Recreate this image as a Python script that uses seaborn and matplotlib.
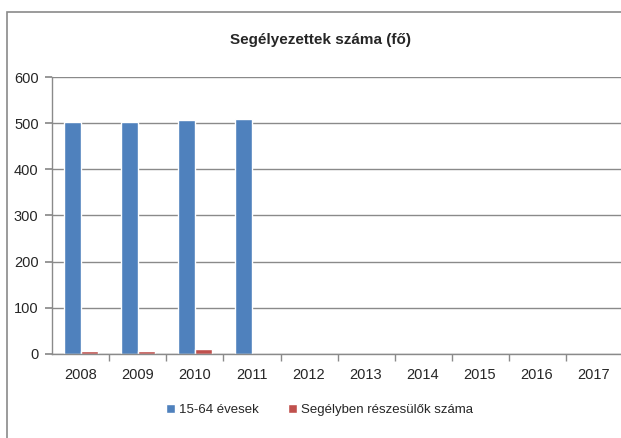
import numpy as np
import pandas as pd
import seaborn as sns
import matplotlib.pyplot as plt
from matplotlib.patches import Rectangle

years = ["2008", "2009", "2010", "2011", "2012", "2013", "2014", "2015", "2016", "2017"]
age_15_64 = [502, 502, 506, 510, np.nan, np.nan, np.nan, np.nan, np.nan, np.nan]
aided = [6, 6, 10, 0, np.nan, np.nan, np.nan, np.nan, np.nan, np.nan]
series_names = ["15-64 évesek", "Segélyben részesülők száma"]
colors = ["#4F81BD", "#C0504D"]

sns.set_theme(style="white")
plt.rcParams["font.family"] = ["Liberation Sans", "DejaVu Sans"]

df = pd.DataFrame({
    "year": years * 2,
    "value": age_15_64 + aided,
    "series": [series_names[0]] * len(years) + [series_names[1]] * len(years),
}).dropna()

fig = plt.figure(figsize=(6.21, 4.38), dpi=100)
ax = fig.add_axes([0.0845, 0.1918, 0.918, 0.6324])

sns.barplot(data=df, x="year", y="value", hue="series", order=years,
            hue_order=series_names, palette=colors, width=0.58, gap=0,
            saturation=1, ax=ax, legend=True)

ax.set_xlim(-0.5, len(years) - 0.5)
ax.set_ylim(0, 600)
ax.set_yticks(range(0, 601, 100))
ax.yaxis.grid(True, color="#8a8a8a", linewidth=1)
ax.set_axisbelow(True)
ax.set_xlabel("")
ax.set_ylabel("")

for s in ["top", "right"]:
    ax.spines[s].set_visible(False)
for s in ["left", "bottom"]:
    ax.spines[s].set_color("#8a8a8a")
    ax.spines[s].set_linewidth(1)

ax.set_xticks(np.arange(len(years)))
ax.set_xticklabels(years)
ax.set_xticks(np.arange(len(years)) + 0.5, minor=True)
ax.tick_params(axis="x", which="major", length=0, pad=10, labelsize=10.5)
ax.tick_params(axis="x", which="minor", length=5, color="#8a8a8a", bottom=True)
ax.tick_params(axis="y", length=5, color="#8a8a8a", left=True, labelsize=10.5, pad=5)

fig.text(321 / 621, 1 - 40 / 438, "Segélyezettek száma (fő)", fontsize=11,
         fontweight="bold", ha="center", va="center")

leg = ax.legend(loc="center", bbox_to_anchor=(0.515, 0.064),
                bbox_transform=fig.transFigure, ncol=2, frameon=False,
                fontsize=9.5, handlelength=0.7, handleheight=0.7,
                columnspacing=2.2, handletextpad=0.3)

fig.add_artist(Rectangle((0.0113, -0.02), 1.1, 0.9926, transform=fig.transFigure,
                         fill=False, edgecolor="#8a8a8a", linewidth=1.2))

fig.savefig("out.png", dpi=100)
